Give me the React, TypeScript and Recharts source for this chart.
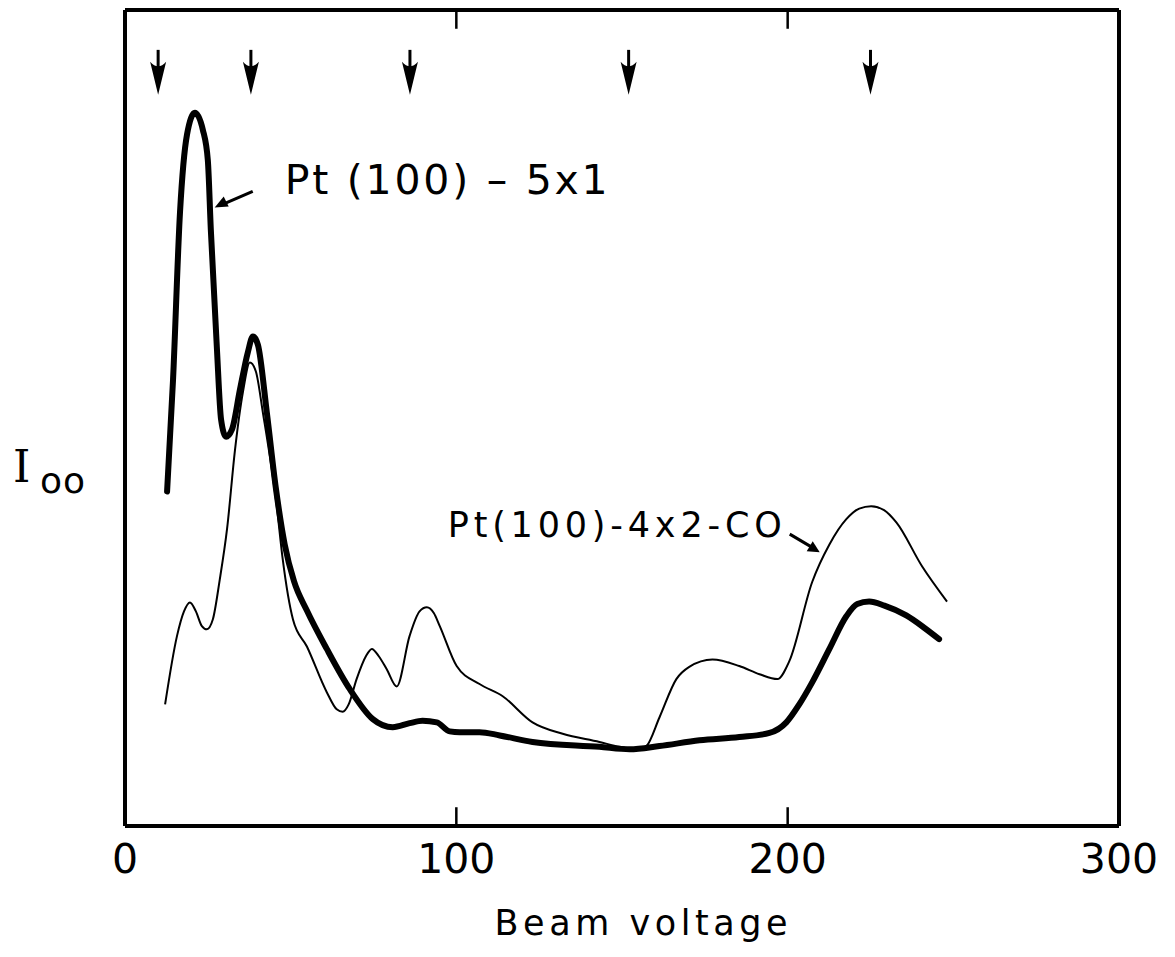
import React from 'react';
import { ComposedChart, Line, XAxis, YAxis, Scatter, ReferenceDot, ReferenceLine } from 'recharts';

// Beam voltage samples and relative intensity I00 (arbitrary units, 0-100)
const clean5x1X = [12.7, 14.5, 16.6, 18.7, 21.1, 23.5, 25.0, 25.9, 27.7, 29.0, 30.5, 32.3, 34.7, 37.1, 38.6, 40.1, 42.8, 45.5, 48.2, 51.0, 54.9, 60.9, 67.8, 74.8, 80.8, 85.9, 89.8, 94.1, 98.0, 101.0, 107.0, 113.1, 123.0, 143.2, 152.3, 161.3, 173.4, 185.4, 194.5, 199.6, 203.5, 207.4, 212.6, 217.7, 221.0, 224.6, 229.2, 235.8, 241.2, 245.7];
const clean5x1Y = [41.0, 54.7, 75.2, 84.7, 87.4, 85.3, 81.6, 73.1, 58.8, 49.8, 47.7, 48.6, 53.5, 58.1, 60.0, 59.0, 50.7, 41.5, 34.5, 30.0, 26.4, 21.7, 16.8, 13.1, 12.1, 12.6, 12.9, 12.7, 11.6, 11.5, 11.5, 11.1, 10.3, 9.7, 9.4, 9.8, 10.5, 10.9, 11.4, 12.7, 14.9, 17.6, 21.7, 25.7, 27.2, 27.5, 27.0, 25.8, 24.3, 22.9];

const co4x2X = [12.1, 15.7, 17.8, 19.6, 21.4, 23.2, 24.7, 26.5, 28.6, 30.8, 33.2, 35.6, 37.7, 39.5, 41.6, 45.8, 47.6, 50.7, 54.9, 60.9, 63.9, 65.7, 67.5, 69.9, 72.7, 74.5, 76.6, 79.0, 82.0, 85.9, 88.9, 91.1, 93.2, 95.0, 100.1, 107.0, 114.0, 123.0, 132.1, 143.2, 149.2, 155.3, 157.4, 161.3, 166.4, 170.3, 177.3, 185.4, 191.5, 196.9, 200.5, 207.4, 212.6, 217.7, 221.6, 225.2, 229.1, 232.8, 240.6, 248.1];
const co4x2Y = [14.9, 23.3, 26.3, 27.4, 26.3, 24.5, 24.1, 25.3, 30.2, 36.4, 46.1, 53.2, 56.8, 55.7, 50.7, 39.2, 32.7, 25.3, 22.0, 16.4, 14.3, 14.0, 14.9, 18.0, 20.8, 21.7, 20.8, 19.2, 17.1, 23.3, 26.3, 26.8, 26.1, 24.5, 19.6, 17.4, 15.9, 12.7, 11.3, 10.3, 9.7, 9.4, 9.8, 13.3, 18.0, 19.5, 20.4, 19.6, 18.6, 18.0, 20.2, 29.9, 34.5, 37.6, 38.9, 39.2, 38.7, 37.2, 31.8, 27.5];

// Marked beam voltages (arrows along the top)
const arrowVoltages = [10, 38, 86, 152, 225];
const arrowLevel = 89.6;

const xTicks = [0, 100, 200, 300];
const innerTicks = [100, 200];
const yDomain = [0, 100];
const tickLen = 2.3; // inward tick length in y units

const label5x1 = 'Pt (100) – 5x1';
const labelCO = 'Pt(100)-4x2-CO';
const xTitle = 'Beam voltage';

const clean5x1 = clean5x1X.map((x, i) => ({ x, v: clean5x1Y[i] }));
const co4x2 = co4x2X.map((x, i) => ({ x, v: co4x2Y[i] }));
const arrowData = arrowVoltages.map((x) => ({ x, v: arrowLevel }));

const FONT = '"DejaVu Sans", sans-serif';

const BottomTick = (props: any) => {
  const { x, y, payload } = props;
  return (
    <text x={x} y={y + 47} textAnchor="middle" fontFamily={FONT} fontSize={41} fill="#000">
      {payload.value}
    </text>
  );
};

const DownArrow = (props: any) => {
  const { cx, cy } = props;
  return (
    <g>
      <line x1={cx} x2={cx} y1={cy - 45} y2={cy - 10} stroke="#000" strokeWidth={3} />
      <path
        d={`M${cx},${cy} L${cx - 8},${cy - 33} Q${cx},${cy - 24} ${cx + 8},${cy - 33} Z`}
        fill="#000"
      />
    </g>
  );
};

const Label5x1 = (props: any) => {
  const { cx, cy } = props;
  const tx = cx - 70;
  const ty = cy + 13;
  return (
    <g>
      <text x={cx} y={cy} fontFamily={FONT} fontSize={41} fill="#000" textLength={323} lengthAdjust="spacing">
        {label5x1}
      </text>
      <line x1={cx - 32} y1={cy - 3} x2={tx + 8} y2={ty - 3} stroke="#000" strokeWidth={3} />
      <path d={`M${tx},${ty} L${tx + 9},${ty - 11} L${tx + 14},${ty - 1} Z`} fill="#000" />
    </g>
  );
};

const LabelCO = (props: any) => {
  const { cx, cy } = props;
  const tx = cx + 372;
  const ty = cy + 15;
  return (
    <g>
      <text x={cx} y={cy} fontFamily={FONT} fontSize={35} fill="#000" textLength={334} lengthAdjust="spacing">
        {labelCO}
      </text>
      <line x1={cx + 342} y1={cy - 3} x2={tx - 8} y2={ty - 5} stroke="#000" strokeWidth={3} />
      <path d={`M${tx},${ty} L${tx - 13},${ty - 1} L${tx - 7},${ty - 11} Z`} fill="#000" />
    </g>
  );
};

const XTitle = (props: any) => {
  const { viewBox } = props;
  const cx = viewBox.x + viewBox.width / 2 + 19;
  return (
    <text x={cx} y={viewBox.y + 109} textAnchor="middle" fontFamily={FONT} fontSize={35} fill="#000" textLength={293} lengthAdjust="spacing">
      {xTitle}
    </text>
  );
};

const YTitle = (props: any) => {
  const { viewBox } = props;
  const x0 = viewBox.x - 52;
  return (
    <g>
      <text x={x0} y={482} fontFamily='"DejaVu Serif", serif' fontSize={44} fill="#000">I</text>
      <text x={x0 + 27} y={493} fontFamily={FONT} fontSize={36} fill="#000" letterSpacing={1}>oo</text>
    </g>
  );
};

export default function App() {
  return (
    <div style={{ position: 'absolute', left: 0, top: 0, width: 1175, height: 957, background: '#fff' }}>
      <ComposedChart
        width={1175}
        height={957}
        margin={{ top: 0, right: 46, bottom: 71, left: 65 }}
      >
        <XAxis
          type="number"
          dataKey="x"
          domain={[0, 300]}
          ticks={xTicks}
          interval={0}
          height={60}
          tickSize={0}
          tickMargin={0}
          tickLine={false}
          axisLine={{ stroke: '#000', strokeWidth: 4 }}
          tick={<BottomTick />}
          label={<XTitle />}
          allowDataOverflow
        />
        <XAxis
          xAxisId="top"
          orientation="top"
          type="number"
          dataKey="x"
          domain={[0, 300]}
          ticks={xTicks}
          interval={0}
          height={10}
          tickSize={0}
          tickLine={false}
          tick={false}
          axisLine={{ stroke: '#000', strokeWidth: 4 }}
        />
        <YAxis
          type="number"
          domain={yDomain}
          width={60}
          tick={false}
          tickLine={false}
          axisLine={{ stroke: '#000', strokeWidth: 4 }}
          label={<YTitle />}
          allowDataOverflow
        />
        <YAxis
          yAxisId="r"
          orientation="right"
          type="number"
          domain={yDomain}
          width={10}
          tick={false}
          tickLine={false}
          axisLine={{ stroke: '#000', strokeWidth: 4 }}
        />
        {innerTicks.map((t) => (
          <ReferenceLine
            key={`b${t}`}
            segment={[{ x: t, y: yDomain[0] }, { x: t, y: yDomain[0] + tickLen }]}
            stroke="#000"
            strokeWidth={2.5}
            ifOverflow="visible"
          />
        ))}
        {innerTicks.map((t) => (
          <ReferenceLine
            key={`t${t}`}
            segment={[{ x: t, y: yDomain[1] }, { x: t, y: yDomain[1] - tickLen }]}
            stroke="#000"
            strokeWidth={2.5}
            ifOverflow="visible"
          />
        ))}
        <Line
          data={co4x2}
          dataKey="v"
          type="monotone"
          stroke="#000"
          strokeWidth={2}
          dot={false}
          activeDot={false}
          isAnimationActive={false}
        />
        <Line
          data={clean5x1}
          dataKey="v"
          type="monotone"
          stroke="#000"
          strokeWidth={6}
          strokeLinecap="round"
          strokeLinejoin="round"
          dot={false}
          activeDot={false}
          isAnimationActive={false}
        />
        <Scatter data={arrowData} dataKey="v" shape={<DownArrow />} isAnimationActive={false} />
        <ReferenceDot x={48.2} y={77.4} r={0} shape={<Label5x1 />} ifOverflow="visible" />
        <ReferenceDot x={97.4} y={35.4} r={0} shape={<LabelCO />} ifOverflow="visible" />
      </ComposedChart>
    </div>
  );
}
